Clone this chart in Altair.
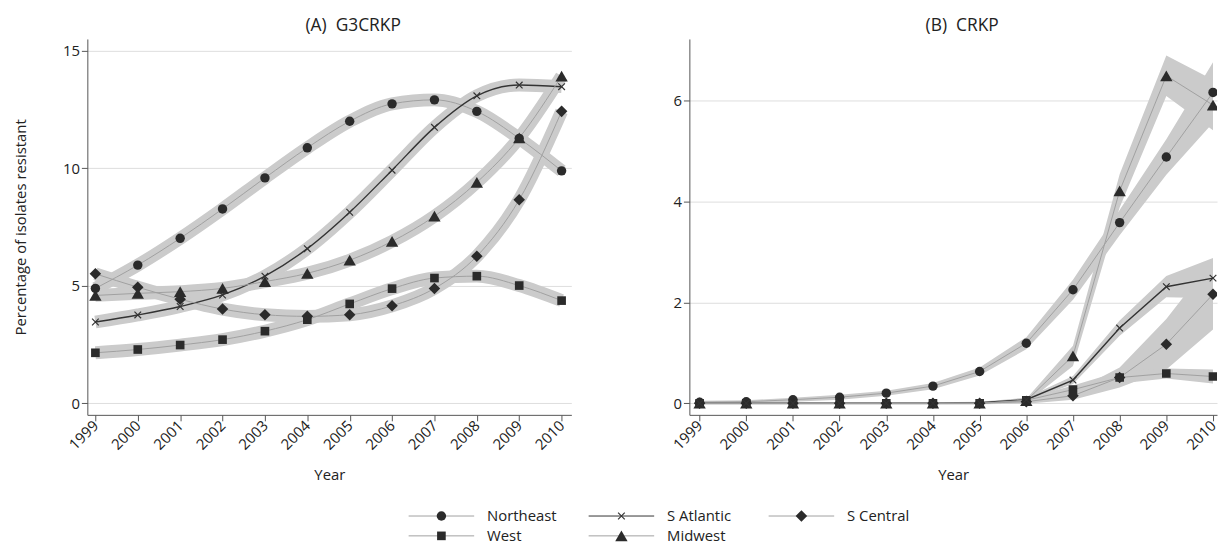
import altair as alt
import pandas as pd

years = list(range(1999, 2011))
series = ["Northeast", "S Atlantic", "S Central", "West", "Midwest"]

# Panel A: G3CRKP (% resistant)
a_northeast = [4.89, 5.88, 7.02, 8.27, 9.59, 10.87, 12.00, 12.74, 12.91, 12.42, 11.27, 9.89]
a_satlantic = [3.46, 3.76, 4.12, 4.61, 5.41, 6.58, 8.13, 9.92, 11.74, 13.08, 13.54, 13.47]
a_scentral = [5.51, 4.94, 4.43, 4.01, 3.77, 3.70, 3.77, 4.15, 4.89, 6.26, 8.66, 12.42]
a_west = [2.15, 2.29, 2.48, 2.71, 3.07, 3.56, 4.23, 4.88, 5.33, 5.41, 5.01, 4.37]
a_midwest = [4.59, 4.68, 4.75, 4.89, 5.18, 5.53, 6.09, 6.89, 7.96, 9.40, 11.29, 13.92]

# Panel B: CRKP (% resistant)
b_northeast = [0.02, 0.03, 0.07, 0.12, 0.20, 0.34, 0.63, 1.19, 2.25, 3.58, 4.88, 6.16]
b_satlantic = [0.0, 0.0, 0.0, 0.0, 0.0, 0.0, 0.01, 0.07, 0.46, 1.49, 2.31, 2.48]
b_scentral = [0.0, 0.0, 0.0, 0.0, 0.0, 0.0, 0.0, 0.03, 0.15, 0.51, 1.17, 2.16]
b_west = [0.0, 0.0, 0.0, 0.0, 0.0, 0.0, 0.0, 0.06, 0.27, 0.51, 0.59, 0.53]
b_midwest = [0.0, 0.0, 0.0, 0.0, 0.0, 0.0, 0.0, 0.05, 0.94, 4.21, 6.49, 5.91]

# Panel B: confidence band half-widths
b_northeast_ci = [0.03, 0.03, 0.04, 0.05, 0.05, 0.06, 0.08, 0.12, 0.20, 0.25, 0.35, 0.60]
b_satlantic_ci = [0.02, 0.02, 0.02, 0.02, 0.02, 0.02, 0.02, 0.04, 0.08, 0.15, 0.21, 0.40]
b_scentral_ci = [0.02, 0.02, 0.02, 0.02, 0.02, 0.02, 0.02, 0.04, 0.08, 0.20, 0.50, 0.70]
b_west_ci = [0.02, 0.02, 0.02, 0.02, 0.02, 0.02, 0.02, 0.04, 0.08, 0.12, 0.10, 0.14]
b_midwest_ci = [0.02, 0.02, 0.02, 0.02, 0.02, 0.02, 0.02, 0.04, 0.20, 0.33, 0.40, 0.50]

X_PATH = "M-1,-1L1,1M-1,1L1,-1"
FONT = "Open Sans"
BAND = "#cbcbcb"
MARK = "#2b2b2b"

# marker style per series (S Atlantic drawn as an "x")
marker_style = {
    "Northeast": ("circle", 90),
    "S Central": ("diamond", 135),
    "West": ("square", 76),
    "Midwest": ("triangle-up", 155),
}

rows_a = []
for s, vals in zip(series, [a_northeast, a_satlantic, a_scentral, a_west, a_midwest]):
    for yr, v in zip(years, vals):
        rows_a.append({"series": s, "year": yr, "value": v})
df_a = pd.DataFrame(rows_a)

rows_b = []
for s, vals, cis in zip(series,
                        [b_northeast, b_satlantic, b_scentral, b_west, b_midwest],
                        [b_northeast_ci, b_satlantic_ci, b_scentral_ci, b_west_ci, b_midwest_ci]):
    for yr, v, c in zip(years, vals, cis):
        rows_b.append({"series": s, "year": yr, "value": v, "lo": v - c, "hi": v + c})
df_b = pd.DataFrame(rows_b)

line_color = alt.Scale(domain=series, range=["#a0a0a0", "#333333", "#a0a0a0", "#a0a0a0", "#a0a0a0"])


def marker_layers(base, x, y, clip):
    layers = []
    kw = {"clip": clip} if clip else {}
    for s, (shp, sz) in marker_style.items():
        layers.append(base.mark_point(filled=True, opacity=1, color=MARK, shape=shp, size=sz, **kw)
                      .encode(x=x, y=y).transform_filter(alt.datum.series == s))
    layers.append(base.mark_point(filled=False, opacity=1, color="#333333", strokeWidth=1.2,
                                  shape=X_PATH, size=45, **kw)
                  .encode(x=x, y=y).transform_filter(alt.datum.series == "S Atlantic"))
    return layers


def panel(df, xdom, ydom, yticks, ytitle, title_text, title_dx, smooth, band_ci, width):
    base = alt.Chart(df)
    x = alt.X("year:Q", scale=alt.Scale(domain=xdom, nice=False, zero=False),
              axis=alt.Axis(values=years, format="d", labelAngle=-45, labelAlign="right",
                            labelBaseline="middle", labelPadding=2, title="Year", grid=False,
                            titlePadding=15))
    if ytitle:
        yax = alt.Axis(values=yticks, title=ytitle, grid=True, titlePadding=34)
    else:
        yax = alt.Axis(values=yticks, title=None, grid=True)
    y = alt.Y("value:Q", scale=alt.Scale(domain=ydom, nice=False, zero=False), axis=yax)
    interp = "monotone" if smooth else "linear"
    clip = not smooth
    if band_ci:
        band = base.mark_area(color=BAND, opacity=1, clip=clip).encode(
            x=x, y="lo:Q", y2="hi:Q", detail="series:N")
    else:
        band = base.mark_line(color=BAND, strokeWidth=13, interpolate=interp, clip=clip).encode(
            x=x, y=y, detail="series:N")
    line = base.mark_line(interpolate=interp, clip=clip).encode(
        x=x, y=y, detail="series:N",
        color=alt.Color("series:N", scale=line_color, legend=None),
        strokeWidth=alt.condition(alt.datum.series == "S Atlantic", alt.value(1.4), alt.value(1)))
    return alt.layer(band, line, *marker_layers(base, x, y, clip)).properties(
        width=width, height=379,
        title=alt.TitleParams(title_text, fontSize=17.5, font=FONT, fontWeight="normal",
                              color="#222222", offset=5, anchor="middle", dx=title_dx))


chart_a = panel(df_a, [1998.81, 2010.23], [-0.49, 15.5], [0, 5, 10, 15],
                "Percentage of isolates resistant", "(A)\u00a0 G3CRKP", 24, True, False, 488)
chart_b = panel(df_b, [1998.781, 2010.086], [-0.23, 7.22], [0, 2, 4, 6],
                None, "(B)\u00a0 CRKP", 9, False, True, 532)

# Legend built from the series list (3 columns, filled row by row)
leg_df = pd.DataFrame({"series": series, "idx": list(range(len(series)))})
leg_base = alt.Chart(leg_df).transform_calculate(
    col="datum.idx % 3", row="floor(datum.idx / 3)",
    x1="(datum.idx % 3) - 0.182", x2="(datum.idx % 3) + 0.182")
LDOM = [-1.967, 3.543]
lx = alt.X("col:Q", scale=alt.Scale(domain=LDOM, nice=False, zero=False), axis=None)
ly = alt.Y("row:Q", scale=alt.Scale(domain=[-0.3, 1.2], nice=False, zero=False, reverse=True), axis=None)
leg_line = leg_base.mark_rule().encode(
    x=alt.X("x1:Q", scale=alt.Scale(domain=LDOM, nice=False, zero=False), axis=None),
    x2="x2:Q", y=ly,
    color=alt.Color("series:N", scale=alt.Scale(domain=series,
                    range=["#c4c4c4", "#555555", "#c4c4c4", "#c4c4c4", "#c4c4c4"]), legend=None))
leg_txt = leg_base.mark_text(align="left", baseline="middle", dx=46, fontSize=15, font=FONT,
                             color="#222222").encode(x=lx, y=ly, text="series:N")
legend = alt.layer(leg_line, *marker_layers(leg_base, lx, ly, False), leg_txt).properties(
    width=1000, height=30)

top = alt.hconcat(chart_a, chart_b, spacing=83)
chart = alt.vconcat(top, legend, spacing=26).properties(
    padding={"left": 5, "top": 6, "right": 0, "bottom": 0}
).configure_view(stroke=None).configure_axis(
    labelFont=FONT, titleFont=FONT, labelFontSize=15, titleFontSize=15, titleFontWeight="normal",
    labelColor="#222222", titleColor="#222222", domainColor="#555555", tickColor="#555555",
    tickSize=6, gridColor="#dedede", gridWidth=1
)

chart.save("out.html", embed_options={"renderer": "svg", "actions": False})
